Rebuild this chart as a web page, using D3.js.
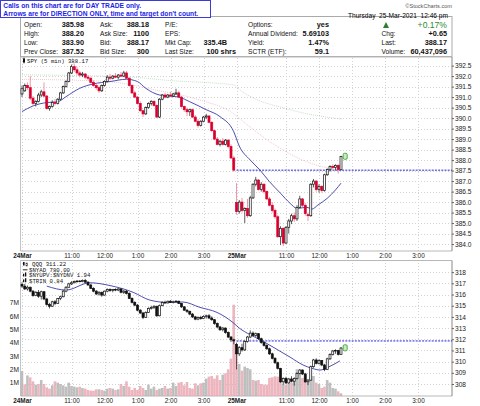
<!DOCTYPE html>
<html lang="en">
<head>
<meta charset="utf-8">
<title>SPY 5 min / QQQ</title>
<script src="https://d3js.org/d3.v7.min.js"></script>
<style>
body { margin: 0; background: #fff; }
svg { display: block; font-family: "Liberation Sans", Arial, sans-serif; }
.grid line { stroke: #d2d2d2; stroke-dasharray: 1.5,1.5; shape-rendering: crispEdges; }
.grid path { display: none; }
.lbl { font-size: 6.6px; fill: #111; }
.val { font-size: 7.3px; font-weight: bold; fill: #111; }
.axis text { font-size: 6.6px; fill: #222; }
.axis path { display: none; }
.axis line { stroke: #666; }
.legend { font-family: "Liberation Mono", monospace; font-size: 5.7px; fill: #111; }
</style>
</head>
<body>
<div id="chart"></div>
<script>
"use strict";

var width = 480, height = 406;

// ---- data ----
// SPY 5 min bars [open, high, low, close]
var spyDay1 = [
  [391.15,391.55,391.00,391.40],[391.30,391.65,391.25,391.55],[391.55,391.70,391.35,391.45],[391.45,392.00,390.85,390.95],
  [390.95,391.05,390.60,390.70],[390.70,390.85,390.55,390.80],[390.80,391.20,390.75,391.10],[391.10,391.35,391.00,391.25],
  [391.25,391.70,391.00,391.05],[391.05,391.10,390.40,390.45],[390.45,390.60,390.35,390.55],[390.55,390.85,390.50,390.75],
  [390.75,390.90,390.60,390.70],[390.70,390.95,390.65,390.90],[390.90,391.25,390.85,391.20],[391.20,391.55,391.15,391.50],
  [391.50,391.80,391.45,391.75],[391.75,392.20,391.70,392.15],[392.15,392.55,392.10,392.45],[392.45,392.60,392.20,392.30],
  [392.30,392.45,392.05,392.15],[392.15,392.25,391.95,392.05],[392.05,392.20,391.95,392.10],[392.10,392.15,391.85,391.95],
  [391.95,392.05,391.80,391.90],[391.90,391.95,391.65,391.70],[391.70,391.80,391.50,391.55],[391.55,391.65,391.35,391.45],
  [391.45,391.55,391.20,391.30],[391.30,391.60,391.25,391.55],[391.55,391.80,391.50,391.75],[391.75,392.05,391.70,391.95],
  [391.95,392.10,391.80,391.90],[391.90,392.05,391.85,392.00],[392.00,392.15,391.90,391.95],[391.95,392.10,391.85,392.05],
  [392.05,392.20,391.95,392.00],[392.00,392.25,391.95,392.15],[392.15,392.25,391.85,391.90],[391.90,391.95,391.50,391.55],
  [391.55,391.60,391.15,391.20],[391.20,391.30,390.95,391.00],[391.00,391.05,390.65,390.70],[390.70,390.80,390.30,390.35],
  [390.35,390.40,390.05,390.20],[390.20,390.55,390.15,390.50],[390.50,390.75,390.45,390.70],[390.70,390.85,390.60,390.80],
  [390.80,390.85,390.55,390.60],[390.60,390.65,390.00,390.05],[390.05,390.95,390.00,390.90],[390.90,391.15,390.85,391.10],
  [391.10,391.20,390.95,391.00],[391.00,391.15,390.95,391.10],[391.10,391.25,391.00,391.05],[391.05,391.20,391.00,391.15],
  [391.15,391.40,391.10,391.20],[391.20,391.30,390.95,391.00],[391.00,391.05,390.50,390.55],[390.55,390.60,390.30,390.40],
  [390.40,390.50,390.10,390.30],[390.30,390.45,390.10,390.40],[390.40,390.45,390.00,390.05],[390.05,390.15,389.80,389.85],
  [389.85,389.95,389.55,389.65],[389.65,389.90,389.60,389.85],[389.85,390.10,389.80,390.05],[390.05,390.20,389.95,390.10],
  [390.10,390.15,389.75,389.80],[389.80,389.85,389.35,389.40],[389.40,389.45,388.95,389.00],[389.00,389.10,388.70,388.75],
  [388.75,388.95,388.65,388.90],[388.90,389.05,388.70,388.75],[388.75,389.00,388.70,388.95],[388.95,389.00,388.55,388.65],
  [388.65,388.75,388.05,388.10],[388.10,388.20,387.45,387.52]
];
var spyDay2 = [
  [385.98,386.90,385.40,385.55],[385.55,386.10,385.45,386.00],[386.00,386.20,385.50,385.60],[385.60,385.75,385.00,385.70],
  [385.70,386.15,385.25,385.35],[385.35,386.30,385.30,386.20],[386.20,386.90,386.15,386.85],[386.85,387.20,386.75,387.05],
  [387.05,387.10,386.55,386.60],[386.60,386.95,386.50,386.85],[386.85,386.90,386.40,386.50],[386.50,386.55,386.10,386.15],
  [386.15,386.25,385.80,385.85],[385.85,386.00,385.50,385.60],[385.60,385.70,385.20,385.30],[385.30,385.40,384.30,384.35],
  [384.35,384.85,383.95,384.75],[384.75,384.80,383.90,384.05],[384.05,384.85,384.00,384.80],[384.80,385.20,384.50,385.10],
  [385.10,385.45,384.95,385.35],[385.35,385.50,385.05,385.20],[385.20,385.85,385.10,385.75],[385.75,386.30,385.70,386.15],
  [386.15,386.20,385.75,385.85],[385.85,385.95,385.35,385.45],[385.40,385.50,385.10,385.35],[385.35,386.90,385.30,386.85],
  [386.85,387.10,386.70,387.00],[387.00,387.05,386.50,386.60],[386.60,386.85,386.45,386.75],[386.75,386.80,386.45,386.55],
  [386.55,387.35,386.50,387.30],[387.30,387.60,387.25,387.55],[387.55,387.75,387.45,387.70],[387.70,387.80,387.55,387.65],
  [387.65,387.80,387.50,387.75],[387.75,387.80,387.35,387.55],[387.55,388.20,387.50,388.17]
];
var spyPriorClose = 389.50;
var spyPrevClose = 387.52;

// QQQ 5 min bars [open, high, low, close]
var qqqDay1 = [
  [316.90,317.10,316.60,316.75],[316.75,316.95,316.40,316.50],[316.50,316.80,316.35,316.65],[316.65,316.70,316.20,316.30],
  [316.30,316.40,315.80,315.90],[315.90,316.30,315.85,316.20],[316.20,316.40,315.70,315.85],[315.85,316.35,315.55,316.25],
  [316.25,316.30,315.50,315.60],[315.60,315.70,315.00,315.10],[315.10,315.25,314.75,314.95],[314.95,315.45,314.90,315.35],
  [315.35,315.50,315.05,315.20],[315.20,315.70,315.15,315.65],[315.65,315.90,315.50,315.80],[315.80,316.40,315.75,316.30],
  [316.30,316.75,316.20,316.65],[316.65,317.05,316.60,316.95],[316.95,317.20,316.85,317.05],[317.05,317.25,317.00,317.15],
  [317.15,317.30,317.05,317.20],[317.20,317.30,317.10,317.15],[317.15,317.35,317.10,317.25],[317.25,317.40,317.05,317.10],
  [317.10,317.20,316.80,316.85],[316.85,316.95,316.50,316.55],[316.55,316.65,316.20,316.30],[316.30,316.40,315.95,316.05],
  [316.05,316.30,315.90,316.20],[316.20,316.25,315.80,315.95],[315.95,316.35,315.90,316.30],[316.30,316.55,316.20,316.45],
  [316.45,316.55,316.25,316.35],[316.35,316.50,316.20,316.45],[316.45,316.55,316.30,316.40],[316.40,316.55,316.30,316.50],
  [316.50,316.55,316.10,316.20],[316.20,316.40,316.05,316.30],[316.30,316.40,316.00,316.10],[316.10,316.20,315.60,315.65],
  [315.65,315.75,315.20,315.30],[315.30,315.40,314.95,315.05],[315.05,315.15,314.50,314.60],[314.60,314.70,314.25,314.35],
  [314.35,314.45,313.80,313.95],[313.95,314.50,313.90,314.40],[314.40,314.85,314.35,314.75],[314.75,315.00,314.65,314.85],
  [314.85,315.05,314.70,314.95],[314.95,315.00,314.00,314.10],[314.10,315.10,314.05,315.00],[315.00,315.40,314.95,315.30],
  [315.30,315.45,315.15,315.25],[315.25,315.45,315.20,315.40],[315.40,315.50,315.25,315.30],[315.30,315.45,315.20,315.35],
  [315.35,315.50,315.25,315.40],[315.40,315.45,315.15,315.20],[315.20,315.25,314.80,314.90],[314.90,314.95,314.55,314.60],
  [314.60,314.70,314.35,314.50],[314.50,314.55,314.15,314.25],[314.25,314.35,313.90,314.00],[314.00,314.10,313.70,313.80],
  [313.80,314.05,313.70,313.95],[313.95,314.10,313.75,313.85],[313.85,314.15,313.80,314.05],[314.05,314.20,313.85,314.10],
  [314.10,314.25,313.80,313.90],[313.90,314.05,313.65,313.75],[313.75,313.80,313.30,313.40],[313.40,313.50,313.00,313.10],
  [313.10,313.20,312.75,312.85],[312.85,313.10,312.70,313.00],[313.00,313.05,312.50,312.60],[312.60,312.70,312.10,312.20],
  [312.20,312.30,311.75,311.95],[311.95,312.05,311.55,311.85]
];
var qqqDay2 = [
  [311.55,311.70,309.30,310.70],[310.70,311.40,310.50,311.25],[311.25,311.60,310.90,311.05],[311.05,311.90,310.95,311.80],
  [311.80,312.30,311.70,312.20],[312.20,312.80,312.10,312.55],[312.55,312.70,312.25,312.35],[312.35,312.60,312.20,312.50],
  [312.50,312.55,311.95,312.05],[312.05,312.15,311.60,311.70],[311.70,311.85,311.35,311.45],[311.45,311.55,311.05,311.15],
  [311.15,311.25,310.60,310.70],[310.70,310.80,310.20,310.30],[310.30,310.40,309.80,309.90],[309.90,310.00,309.30,309.40],
  [309.40,309.45,308.10,308.20],[308.20,308.60,307.95,308.50],[308.50,308.65,308.00,308.10],[308.10,308.55,308.00,308.45],
  [308.45,308.70,308.15,308.25],[308.25,308.60,307.85,308.50],[308.50,309.05,308.40,308.95],[308.95,309.35,308.85,309.25],
  [309.25,309.30,308.80,308.90],[308.90,309.00,308.10,308.20],[308.20,308.45,307.90,308.35],[308.35,309.65,308.30,309.55],
  [309.55,310.25,309.45,310.15],[310.15,310.30,309.75,309.85],[309.85,310.20,309.75,310.10],[310.10,310.15,309.60,309.70],
  [309.70,309.80,309.15,309.30],[309.30,310.35,309.25,310.25],[310.25,310.75,310.15,310.65],[310.65,311.05,310.55,310.95],
  [310.95,311.10,310.70,311.00],[311.00,311.05,310.55,310.65],[310.65,311.30,310.60,311.22]
];
var qqqPriorClose = 315.90;
var qqqPrevClose = 311.85;

// volume in millions, one per bar
var volDay1 = [1.87,0.87,1.54,1.40,1.10,0.85,0.90,1.20,0.90,0.65,0.55,0.80,1.10,1.00,0.90,0.80,0.70,1.00,0.75,0.70,
  0.65,0.70,0.60,0.55,0.45,0.40,0.40,0.50,0.50,0.45,0.40,0.55,0.60,0.55,0.45,0.50,0.90,0.75,1.10,0.70,
  0.45,0.60,0.45,0.75,0.60,0.45,0.85,0.55,0.70,0.45,0.55,0.60,0.75,0.55,0.60,1.00,0.75,1.00,1.05,0.80,
  1.05,0.60,0.55,0.95,0.80,0.95,1.00,1.30,1.45,1.50,1.30,1.55,1.20,1.60,1.70,2.00,2.80,6.84];
var volDay2 = [3.30,2.40,1.90,2.20,2.10,2.00,1.20,1.15,1.20,0.90,0.85,0.85,1.35,1.40,1.47,1.45,1.10,0.90,0.85,0.90,
  1.00,1.20,2.00,1.80,1.35,1.20,1.15,1.80,1.50,1.00,0.90,0.60,0.70,1.20,1.00,0.60,0.55,0.35,0.20];

// moving averages, [bar, value]
var spyMaShort = [[0,390.31],[4,390.58],[9,390.74],[13,390.78],[16,391.02],[21,391.42],[26,391.63],[32,391.74],
  [38,391.85],[42,391.74],[45,391.42],[50,391.10],[57,391.00],[61,390.78],[67,390.40],[72,390.07],[77,389.35],
  [79,388.67],[83,388.00],[86.5,387.53],[90,386.97],[94,386.42],[97.5,385.94],[100,385.70],[103.5,385.75],
  [105.5,385.67],[107.6,385.86],[111,386.18],[114,386.58],[116,386.90]];
var spyMaMid = [[0,391.85],[30,391.75],[50,391.30],[65,390.85],[77,390.20],[79,389.99],[91,388.80],[103.5,387.92],[114.4,387.53]];
var spyMaLong = [[0,392.06],[40,391.95],[52.6,391.80],[77,391.58],[79.3,391.34],[97.5,390.40],[116.7,389.95]];
var qqqMa = [[9,316.75],[16,316.40],[24.7,317.05],[32,316.80],[40.4,316.20],[46.5,315.50],[52.7,315.30],[58.5,315.33],
  [64.7,314.85],[70.9,314.40],[76.7,313.50],[79,313.00],[83,312.40],[87,311.90],[91.3,311.30],[97.5,310.40],
  [102.2,309.70],[105.5,309.40],[108.4,309.25],[111.3,309.50],[115.6,310.07]];

// axes
var timeTickIdx = [0, 18, 30, 42, 54, 66, 78, 96, 108, 120, 132, 144];
var timeTickLabels = ["24Mar", "11:00", "12:00", "1:00", "2:00", "3:00", "25Mar", "11:00", "12:00", "1:00", "2:00", "3:00"];
var spyTicks = [384.0, 384.5, 385.0, 385.5, 386.0, 386.5, 387.0, 387.5, 388.0, 388.5, 389.0, 389.5, 390.0, 390.5, 391.0, 391.5, 392.0, 392.5];
var qqqTicks = [308, 309, 310, 311, 312, 313, 314, 315, 316, 317, 318];
var volTicks = [1, 2, 3, 4, 5, 6, 7];

// header
var noteLines = ["Calls on this chart are for DAY TRADE only.", "Arrows are for DIRECTION ONLY, time and target don't count."];
var infoCol1 = [["Open:", "385.98"], ["High:", "388.20"], ["Low:", "383.90"], ["Prev Close:", "387.52"]];
var infoCol2 = [["Ask:", "388.18"], ["Ask Size:", "1100"], ["Bid:", "388.17"], ["Bid Size:", "300"]];
var infoCol3 = [["P/E:", ""], ["EPS:", ""], ["Mkt Cap:", "335.4B"], ["Last Size:", "100 shrs"]];
var infoCol4 = [["Options:", "yes"], ["Annual Dividend:", "5.69103"], ["Yield:", "1.47%"], ["SCTR (ETF):", "59.1"]];
var quoteRows = [["Chg:", "+0.65"], ["Last:", "388.17"], ["Volume:", "60,437,096"]];
var pctChange = "+0.17%";
var dateLine = "Thursday  25-Mar-2021  12:46 pm";
var legendTop = "SPY (5 min) 388.17";
var legendBottom = ["QQQ 311.22", "$NYAD 780.00", "$NYUPV:$NYDNV 1.94", "$TRIN 0.84"];

// ---- layout ----
var red = "#d8002e", redWick = "#f07a92", blue = "#3a3aa8";
var spy = spyDay1.concat(spyDay2);
var qqq = qqqDay1.concat(qqqDay2);
var vol = volDay1.concat(volDay2);

var x = d3.scaleLinear().domain([0, 156]).range([22, 451]);
var top1 = 57, bot1 = 251, top2 = 260.5, bot2 = 396, right = 452, left = 20.5;
var yTop = d3.scaleLinear().domain([383.67, 392.91]).range([bot1, top1]);
var yBot = d3.scaleLinear().domain([306.93, 319.04]).range([bot2, top2]);
var yVol = d3.scaleLinear().domain([0, 10.15]).range([bot2, top2]);

var svg = d3.select("#chart").append("svg")
    .attr("width", width)
    .attr("height", height);

// ---- header ----
var hdr = svg.append("g");
hdr.append("rect").attr("x", left).attr("y", 16.5).attr("width", right - left).attr("height", 40)
  .attr("fill", "#fff").attr("stroke", "#aaa");

var rowY = [27.2, 36.2, 45.1, 54];
function infoBlock(rows, lx, vx, startRow) {
  rows.forEach(function(r, i) {
    var y = rowY[i + startRow];
    hdr.append("text").attr("class", "lbl").attr("x", lx).attr("y", y).text(r[0]);
    hdr.append("text").attr("class", "val").attr("x", (r[0] === "Last Size:") ? vx + 9 : vx)
      .attr("y", y).attr("text-anchor", "end").text(r[1]);
  });
}
infoBlock(infoCol1, 24, 84, 0);
infoBlock(infoCol2, 100, 149, 0);
infoBlock(infoCol3, 165, 227, 0);
infoBlock(infoCol4, 248, 329, 0);
infoBlock(quoteRows, 381.5, 447, 1);

hdr.append("text").attr("x", 452).attr("y", 8.3).attr("text-anchor", "end")
  .style("font-size", "5.6px").style("fill", "#555").text("\u00a9StockCharts.com");
hdr.append("text").attr("x", 448).attr("y", 18.2).attr("text-anchor", "end")
  .style("font-size", "6.6px").style("white-space", "pre").text(dateLine);
hdr.append("path").attr("d", "M383,28L386,22L389,28Z").attr("fill", "#2f7d2f");
hdr.append("text").attr("x", 447).attr("y", 28.3).attr("text-anchor", "end")
  .style("font-size", "8.6px").style("fill", "#2e8b2e").text(pctChange);

// note box
var note = svg.append("g");
note.append("rect").attr("x", 0.5).attr("y", 0.5).attr("width", 210).attr("height", 17)
  .attr("fill", "#fff").attr("stroke", "#3b3bd6");
note.selectAll("text").data(noteLines).enter().append("text")
  .attr("x", 3.3).attr("y", function(d, i) { return 8.2 + i * 7.8; })
  .style("font-size", "6.7px").style("font-weight", "bold").style("fill", "#1d1de8")
  .text(function(d) { return d; });

// ---- panels ----
function panelGrid(g, yScale, ticks, y0, y1) {
  g.append("g").attr("class", "grid")
    .attr("transform", "translate(0," + y1 + ")")
    .call(d3.axisBottom(x).tickValues(timeTickIdx).tickSize(-(y1 - y0)).tickFormat(""));
  g.append("g").attr("class", "grid")
    .attr("transform", "translate(" + right + ",0)")
    .call(d3.axisLeft(yScale).tickValues(ticks).tickSize(right - 22).tickFormat(""));
  g.append("line").attr("x1", left).attr("x2", left).attr("y1", y0).attr("y2", y1).attr("stroke", "#c4c4c4");
  g.append("line").attr("x1", left).attr("x2", right).attr("y1", y0).attr("y2", y0).attr("stroke", "#b8b8b8");
  g.append("line").attr("x1", left).attr("x2", right).attr("y1", y1).attr("y2", y1).attr("stroke", "#b8b8b8");
  g.append("line").attr("x1", right).attr("x2", right).attr("y1", y0).attr("y2", y1).attr("stroke", "#888");
}

function timeAxis(y) {
  var ax = svg.append("g").attr("class", "axis")
    .attr("transform", "translate(0," + y + ")")
    .call(d3.axisBottom(x).tickValues(timeTickIdx).tickSize(0).tickPadding(0)
      .tickFormat(function(d, i) { return timeTickLabels[i]; }));
  ax.selectAll("text").attr("dy", "0.71em")
    .style("font-size", "6.4px")
    .style("font-weight", function(d, i) { return /Mar/.test(timeTickLabels[i]) ? "bold" : "normal"; });
}

function maLine(g, data, yScale, color, w, dash, op) {
  g.append("path").datum(data)
    .attr("fill", "none").attr("stroke", color).attr("stroke-width", w)
    .attr("stroke-dasharray", dash).attr("opacity", op)
    .attr("d", d3.line().curve(d3.curveMonotoneX)
      .x(function(d) { return x(d[0]); })
      .y(function(d) { return yScale(d[1]); }));
}

function candles(g, bars, yScale, colorOf, wickOf) {
  var c = g.selectAll(".c").data(bars).enter().append("g");
  c.append("line")
    .attr("x1", function(d, i) { return x(i); }).attr("x2", function(d, i) { return x(i); })
    .attr("y1", function(d) { return yScale(d[1]); }).attr("y2", function(d) { return yScale(d[2]); })
    .attr("stroke", function(d, i) { return wickOf(d, i); }).attr("stroke-width", 0.8);
  c.append("rect")
    .attr("x", function(d, i) { return x(i) - 1; })
    .attr("width", 2)
    .attr("y", function(d) { return yScale(Math.max(d[0], d[3])); })
    .attr("height", function(d) { return Math.max(0.6, Math.abs(yScale(d[0]) - yScale(d[3]))); })
    .attr("fill", function(d, i) { return d[3] < d[0] ? colorOf(d, i) : "#fff"; })
    .attr("stroke", function(d, i) { return colorOf(d, i); })
    .attr("stroke-width", 0.7);
}

function lastMarker(g, i, v, yScale) {
  g.append("rect").attr("x", x(i) + 2.2).attr("y", yScale(v) - 3.2)
    .attr("width", 4).attr("height", 6).attr("rx", 1.2)
    .attr("fill", "#c6ecc0").attr("stroke", "#2f9a2f").attr("stroke-width", 0.8);
}

// top panel: SPY
var p1 = svg.append("g");
panelGrid(p1, yTop, spyTicks, top1, bot1);
p1.append("line").attr("x1", x(78)).attr("x2", right).attr("y1", yTop(spyPrevClose)).attr("y2", yTop(spyPrevClose))
  .attr("stroke", "#2525e0").attr("stroke-dasharray", "2,1.2");
maLine(p1, spyMaLong, yTop, "#9cc7a0", 0.8, "1,1", 0.7);
maLine(p1, spyMaMid, yTop, "#eba8b8", 0.8, "1,1", 0.8);
maLine(p1, spyMaShort, yTop, blue, 0.9, null, 1);

function spyColor(d, i) {
  var prev = i === 0 ? spyPriorClose : spy[i - 1][3];
  return d[3] >= prev ? "#111" : red;
}
candles(p1, spy, yTop, spyColor, function(d, i) { return spyColor(d, i) === red ? redWick : "#333"; });
lastMarker(p1, spy.length - 1, spy[spy.length - 1][3], yTop);

p1.append("g").attr("class", "axis")
  .attr("transform", "translate(" + right + ",0)")
  .call(d3.axisRight(yTop).tickValues(spyTicks).tickSize(2).tickPadding(1).tickFormat(d3.format(".1f")));

p1.append("rect").attr("x", 23).attr("y", 58.5).attr("width", 2).attr("height", 4).attr("fill", "#111");
p1.append("line").attr("x1", 24).attr("x2", 24).attr("y1", 57.5).attr("y2", 63.5).attr("stroke", "#111").attr("stroke-width", 0.6);
p1.append("text").attr("class", "legend").attr("x", 27).attr("y", 63).text(legendTop);

timeAxis(bot1 + 2.5);

// bottom panel: QQQ with volume
var p2 = svg.append("g");
panelGrid(p2, yBot, qqqTicks, top2, bot2);

function qqqUp(i) {
  var prev = i === 0 ? qqqPriorClose : qqq[i - 1][3];
  return qqq[i][3] >= prev;
}
p2.selectAll(".v").data(vol).enter().append("rect")
  .attr("x", function(d, i) { return x(i) - 1.35; })
  .attr("width", 2.6)
  .attr("y", function(d) { return yVol(d); })
  .attr("height", function(d) { return yVol(0) - yVol(d); })
  .attr("fill", function(d, i) { return qqqUp(i) ? "#b4b4b4" : "#eaa8b3"; })
  .attr("opacity", 0.85);

p2.append("line").attr("x1", x(78)).attr("x2", right).attr("y1", yBot(qqqPrevClose)).attr("y2", yBot(qqqPrevClose))
  .attr("stroke", "#2525e0").attr("stroke-dasharray", "2,1.2");
maLine(p2, qqqMa, yBot, blue, 0.9, null, 1);
candles(p2, qqq, yBot, function() { return "#111"; }, function() { return "#333"; });
lastMarker(p2, qqq.length - 1, qqq[qqq.length - 1][3], yBot);

p2.append("g").attr("class", "axis")
  .attr("transform", "translate(" + right + ",0)")
  .call(d3.axisRight(yBot).tickValues(qqqTicks).tickSize(2).tickPadding(1).tickFormat(d3.format("d")));
p2.append("g").attr("class", "axis")
  .attr("transform", "translate(" + left + ",0)")
  .call(d3.axisLeft(yVol).tickValues(volTicks).tickSize(0).tickPadding(1.5).tickFormat(function(d) { return d + "M"; }));

// legend for lower panel
var lg = p2.append("g");
lg.selectAll("text").data(legendBottom).enter().append("text")
  .attr("class", "legend")
  .attr("x", function(d, i) { return i === 0 ? 32 : 29; })
  .attr("y", function(d, i) { return 266 + i * 5.7; })
  .text(function(d) { return d; });
lg.append("rect").attr("x", 23).attr("y", 262).attr("width", 1.6).attr("height", 3.5).attr("fill", "#111");
lg.append("rect").attr("x", 26).attr("y", 263).attr("width", 1.6).attr("height", 3).attr("fill", "#fff").attr("stroke", "#111").attr("stroke-width", 0.5);
lg.append("line").attr("x1", 23).attr("x2", 27.5).attr("y1", 269.8).attr("y2", 269.8).attr("stroke", "#111").attr("stroke-width", 0.9);
[275.5, 281.2].forEach(function(yy) {
  lg.append("rect").attr("x", 23).attr("y", yy - 1.8).attr("width", 1.3).attr("height", 2.8).attr("fill", "#111");
  lg.append("rect").attr("x", 25).attr("y", yy - 3).attr("width", 1.3).attr("height", 4).attr("fill", "#111");
});

timeAxis(bot2 + 2.5);
</script>
</body>
</html>
